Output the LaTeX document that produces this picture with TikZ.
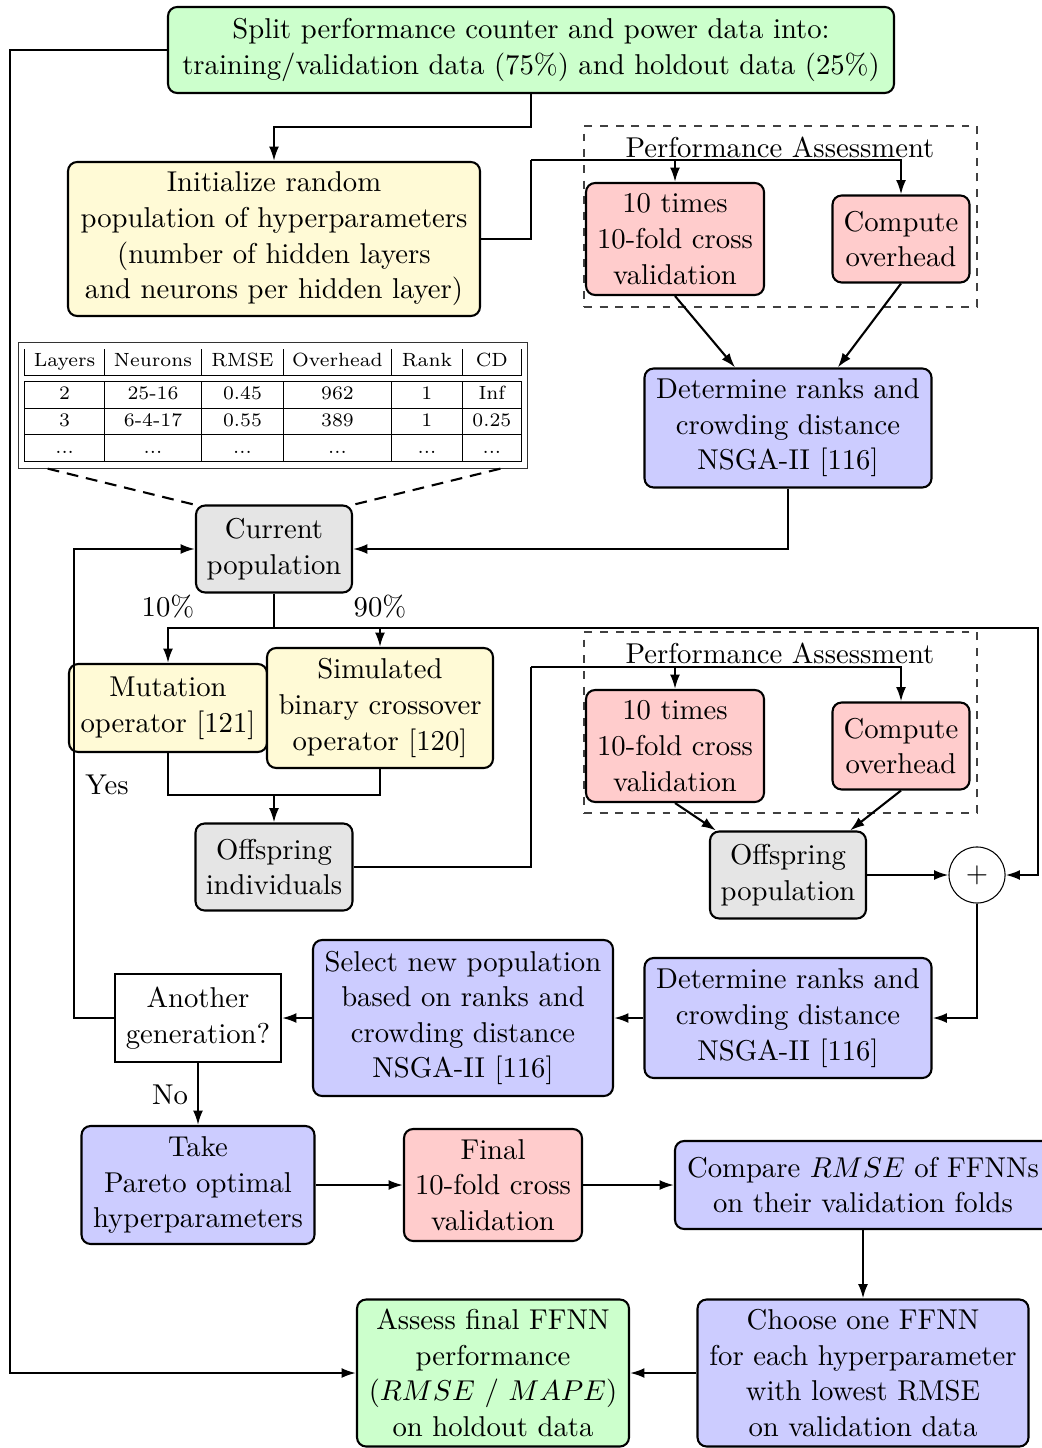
\documentclass[tikz,border=0pt]{standalone}
\usepackage{array}
\usetikzlibrary{arrows.meta,calc}
\definecolor{boxgreen}{RGB}{204,255,204}
\definecolor{boxyellow}{RGB}{255,250,214}
\definecolor{boxred}{RGB}{255,204,204}
\definecolor{boxblue}{RGB}{204,204,255}
\definecolor{boxgray}{RGB}{229,229,229}
\newcolumntype{C}[1]{>{\centering\arraybackslash}p{#1}}
\begin{document}
\begin{tikzpicture}[x=0.3817pt,y=-0.3817pt,
  font=\fontsize{10.95}{13.6}\selectfont,
  wh/.style 2 args={minimum width=#1*0.3817pt,minimum height=#2*0.3817pt},
  proc/.style={draw,thick,rounded corners=3.5pt,align=center,inner sep=3.6pt},
  greenbox/.style={proc,fill=boxgreen},
  yellowbox/.style={proc,fill=boxyellow},
  redbox/.style={proc,fill=boxred},
  bluebox/.style={proc,fill=boxblue},
  graybox/.style={proc,fill=boxgray},
  decision/.style={draw,thick,align=center,fill=white,inner sep=3.6pt},
  pabox/.style={draw=black!75,thin,dashed},
  arr/.style={thick,-{Latex[length=5.5pt,width=3.8pt]}},
  link/.style={thick},
  tablelink/.style={thick,dash pattern=on 4.5pt off 3pt},
  lbl/.style={inner sep=1pt}]
\useasboundingbox (0,0) rectangle (1042,1448);

% performance assessment frames
\node[pabox,wh={393}{181}] (pa1) at (780.5,216.5) {};
\node[lbl] (pa1lbl) at (780,147) {Performance Assessment};
\node[pabox,wh={393}{181}] (pa2) at (780.5,722.5) {};
\node[lbl] (pa2lbl) at (780,653) {Performance Assessment};

% boxes
\node[greenbox,wh={726}{86}] (split) at (531,50)
  {Split performance counter and power data into:\\training/validation data (75\%) and holdout data (25\%)};
\node[yellowbox,wh={412}{154}] (init) at (274,239)
  {Initialize random\\population of hyperparameters\\(number of hidden layers\\and neurons per hidden layer)};
\node[redbox,wh={178}{112}] (cv1) at (675,239) {10 times\\10-fold cross\\validation};
\node[redbox,wh={137}{87}] (ov1) at (901,239) {Compute\\overhead};
\node[bluebox,wh={287}{119}] (det1) at (788,428) {Determine ranks and\\crowding distance\\NSGA-II [116]};

\node[draw=black!80,thin,inner sep=2.3pt,fill=white] (tbl) at (273,405.5) {%
  \fontsize{7.3}{8.6}\selectfont\renewcommand{\arraystretch}{1.14}\setlength{\tabcolsep}{0pt}%
  \begin{tabular}{|C{30.1pt}|C{36.6pt}|C{30.9pt}|C{40.8pt}|C{26.7pt}|C{22.1pt}|}
    Layers & Neurons & RMSE & Overhead & Rank & CD \\ \hline\hline
    2 & 25-16 & 0.45 & 962 & 1 & Inf \\ \hline
    3 & 6-4-17 & 0.55 & 389 & 1 & 0.25 \\ \hline
    ... & ... & ... & ... & ... & ... \\ \hline
  \end{tabular}};

\node[graybox,wh={156}{87}] (cur) at (274,549) {Current\\population};
\node[yellowbox,wh={198}{88}] (mut) at (168,708) {Mutation\\operator [121]};
\node[yellowbox,wh={226}{120}] (sim) at (380,708) {Simulated\\binary crossover\\operator [120]};
\node[graybox,wh={157}{87}] (offi) at (274,867) {Offspring\\individuals};

\node[redbox,wh={178}{112}] (cv2) at (675,746) {10 times\\10-fold cross\\validation};
\node[redbox,wh={137}{87}] (ov2) at (901,746) {Compute\\overhead};
\node[graybox,wh={156}{87}] (offp) at (788,875) {Offspring\\population};
\node[draw,thin,circle,minimum size=21.4pt,inner sep=0pt,fill=white] (plus) at (977,875) {$+$};

\node[bluebox,wh={287}{120}] (det2) at (788,1018) {Determine ranks and\\crowding distance\\NSGA-II [116]};
\node[bluebox,wh={300}{156}] (sel) at (463,1018) {Select new population\\based on ranks and\\crowding distance\\NSGA-II [116]};
\node[decision,wh={166}{88}] (gen) at (198,1018) {Another\\generation?};

\node[bluebox,wh={233}{118}] (take) at (198,1185) {Take\\Pareto optimal\\hyperparameters};
\node[redbox,wh={178}{112}] (fin) at (493,1185) {Final\\10-fold cross\\validation};
\node[bluebox,wh={376}{88}] (cmp) at (863,1185) {Compare $RMSE$ of FFNNs\\on their validation folds};
\node[bluebox,wh={331}{147}] (cho) at (863,1373) {Choose one FFNN\\for each hyperparameter\\with lowest RMSE\\on validation data};
\node[greenbox,wh={272}{147}] (ass) at (493,1373) {Assess final FFNN\\performance\\($RMSE$ / $MAPE$)\\on holdout data};

% edge labels
\node[lbl] (p10) at (168,607) {10\%};
\node[lbl] (p90) at (380,607) {90\%};
\node[lbl] (yes) at (107,785) {Yes};
\node[lbl] (no) at (170,1095) {No};

% junction points
\coordinate (holdout) at (10,50);
\coordinate (j0) at (531,127);
\coordinate (j1) at (531,160);
\coordinate (j2) at (274,628);
\coordinate (j2r) at (1038,628);
\coordinate (j3) at (274,795);
\coordinate (j4) at (531,667);
\coordinate (loop) at (74,1018);

% connectors
\draw[arr] (split.west) -- (holdout) |- (ass.west);
\draw[arr] (split.south) -- (j0) -| (init.north);
\draw[link] (init.east) -| (j1);
\draw[arr] (j1) -| (ov1.north);
\draw[arr] (cv1.north |- j1) -- (cv1.north);
\draw[arr] (cv1.south) -- ([xshift=-20.2pt]det1.north);
\draw[arr] (ov1.south) -- ([xshift=19pt]det1.north);
\draw[arr] (det1.south) |- (cur.east);

\draw[tablelink] ([xshift=11.5pt]tbl.south west) -- ([xshift=1.5pt,yshift=-0.5pt]cur.north west);
\draw[tablelink] ([xshift=-10.7pt]tbl.south east) -- ([xshift=-1.5pt,yshift=-0.5pt]cur.north east);

\draw[link] (cur.south) -- (j2);
\draw[arr] (j2) -| (mut.north);
\draw[arr] (sim.north |- j2) -- (sim.north);
\draw[arr] (j2) -- (j2r) |- (plus.east);

\draw[link] (mut.south) |- (sim.south |- j3) -- (sim.south);
\draw[arr] (j3) -- (offi.north);

\draw[link] (offi.east) -| (j4);
\draw[arr] (j4) -| (ov2.north);
\draw[arr] (cv2.north |- j4) -- (cv2.north);
\draw[arr] (cv2.south) -- ([xshift=-27.5pt]offp.north);
\draw[arr] (ov2.south) -- ([xshift=23.7pt]offp.north);
\draw[arr] (offp.east) -- (plus.west);
\draw[arr] (plus.south) |- (det2.east);
\draw[arr] (det2.west) -- (sel.east);
\draw[arr] (sel.west) -- (gen.east);
\draw[arr] (gen.west) -- (loop) |- (cur.west);
\draw[arr] (gen.south) -- (take.north);
\draw[arr] (take.east) -- (fin.west);
\draw[arr] (fin.east) -- (cmp.west);
\draw[arr] (cmp.south) -- (cho.north);
\draw[arr] (cho.west) -- (ass.east);
\end{tikzpicture}
\end{document}
